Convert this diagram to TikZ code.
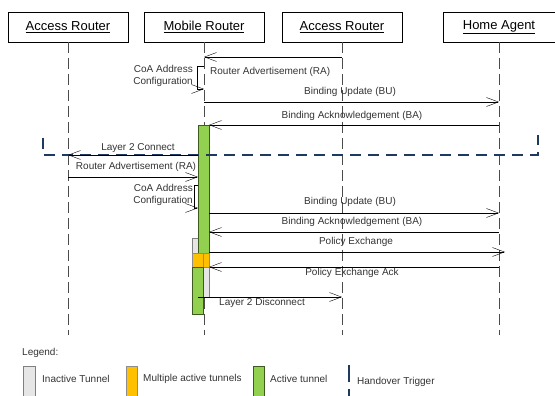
\documentclass[tikz,border=0pt]{standalone}
\usepackage{fontspec}
\setmainfont{Liberation Sans}
\usetikzlibrary{arrows.meta}
\definecolor{activegreen}{HTML}{92D050}
\definecolor{activeborder}{HTML}{3F5A1E}
\definecolor{multiorange}{HTML}{FFC000}
\definecolor{inactivegray}{HTML}{E6E6E6}
\definecolor{triggerblue}{HTML}{1F3A5F}
\definecolor{bodytext}{HTML}{333333}

\tikzset{
  head/.style={draw, minimum width=120pt, minimum height=30pt, inner sep=0pt, font=\fontsize{13}{15}\selectfont},
  lifeline/.style={draw=black!70, dash pattern=on 11pt off 5pt},
  msg/.style={-{Straight Barb[length=12pt,width=9pt]}, black},
  lbl/.style={font=\fontsize{10}{11.5}\selectfont, color=bodytext, inner sep=0pt},
  trigger/.style={draw=triggerblue, line width=2.2pt, dash pattern=on 11pt off 7pt},
  inactive/.style={fill=inactivegray, draw=black!50},
  multi/.style={fill=multiorange, draw=black!45},
  active/.style={fill=activegreen, draw=activeborder},
}

\begin{document}
\begin{tikzpicture}[x=1pt,y=-1pt]
    \useasboundingbox (0,0) rectangle (555,396);

    % Objects
    \node[head] (ar1) at (68,27) {\underline{Access Router}};
    \node[head] (mr) at (204,27) {\underline{Mobile Router}};
    \node[head] (ar2) at (342,27) {\underline{Access Router}};
    \node[head, minimum width=112pt] (ha) at (499,27) {\underline{Home Agent}};

    % Lifelines
    \coordinate (end) at (0,335);
    \foreach \o in {ar1,mr,ar2,ha}
        \draw[lifeline] (\o.south) -- (\o |- end);

    % Tunnels
    \draw[inactive] (192,238) rectangle (203,253);
    \draw[inactive] (198,267) rectangle (209,297);
    \draw[active] (198,125) rectangle (209,253);
    \draw[multi] (192,253) rectangle (209,267);
    \draw[black!45] (203,253) -- (203,267);
    \draw[active] (192,267) rectangle (203,314);

    % Message rows
    \coordinate (ra1) at (0,57);
    \coordinate (coa1) at (0,66);
    \coordinate (bu1) at (0,102);
    \coordinate (ba1) at (0,125);
    \coordinate (l2c) at (0,155);
    \coordinate (ra2) at (0,177);
    \coordinate (coa2) at (0,185);
    \coordinate (bu2) at (0,213);
    \coordinate (ba2) at (0,232);
    \coordinate (pe) at (0,252);
    \coordinate (pea) at (0,267);
    \coordinate (l2d) at (0,297);

    % Before handover
    \draw[msg] (ar2 |- ra1) -- (mr |- ra1);
    \node[lbl, anchor=west] (lra1) at (210,72) {Router Advertisement (RA)};
    \draw[msg] (mr |- coa1) -- ++(-7,0) -- ++(0,23) -- ++(7,0);
    \node[lbl, align=right, anchor=east] (lcoa1) at (193,76) {CoA Address\\Configuration};
    \draw[msg] (mr |- bu1) -- (ha |- bu1);
    \node[lbl] (lbu1) at (350,92) {Binding Update (BU)};
    \draw[msg] (ha |- ba1) -- ([xshift=5pt]mr |- ba1);
    \node[lbl] (lba1) at (352,116) {Binding Acknowledgement (BA)};

    % Handover
    \draw[trigger] (43,138) -- (43,155) -- (538,155) -- (538,135);
    \draw[msg] ([xshift=-6pt]mr |- l2c) -- (ar1 |- l2c);
    \node[lbl] (ll2c) at (138,148) {Layer 2 Connect};
    \draw[msg] (ar1 |- ra2) -- ([xshift=-6pt]mr |- ra2);
    \node[lbl] (lra2) at (136,167) {Router Advertisement (RA)};
    \draw[msg] ([xshift=-6pt]mr |- coa2) -- ++(-4,0) -- ++(0,23) -- ++(4,0);
    \node[lbl, align=right, anchor=east] (lcoa2) at (193,195) {CoA Address\\Configuration};
    \draw[msg] ([xshift=5pt]mr |- bu2) -- (ha |- bu2);
    \node[lbl] (lbu2) at (350,202) {Binding Update (BU)};
    \draw[msg] (ha |- ba2) -- ([xshift=5pt]mr |- ba2);
    \node[lbl] (lba2) at (352,222) {Binding Acknowledgement (BA)};
    \draw[msg] ([xshift=5pt]mr |- pe) -- ([xshift=6pt]ha |- pe);
    \node[lbl] (lpe) at (356,242) {Policy Exchange};
    \draw[msg] (ha |- pea) -- ([xshift=5pt]mr |- pea);
    \node[lbl] (lpea) at (352,273) {Policy Exchange Ack};
    \draw[msg] ([xshift=-6pt]mr |- l2d) -- (ar2 |- l2d);
    \node[lbl, anchor=west] (ll2d) at (219,303) {Layer 2 Disconnect};

    % Legend
    \node[lbl, anchor=west] (legend) at (22,353) {Legend:};
    \draw[inactive] (23,366) rectangle (35,402);
    \node[lbl, anchor=west] (linactive) at (42,379) {Inactive Tunnel};
    \draw[multi] (126,366) rectangle (137,402);
    \node[lbl, anchor=west] (lmulti) at (143,379) {Multiple active tunnels};
    \draw[active] (253,366) rectangle (264,402);
    \node[lbl, anchor=west] (lactive) at (270,379) {Active tunnel};
    \draw[trigger, dash pattern=on 17pt off 7pt] (349,365) -- (349,402);
    \node[lbl, anchor=west] (ltrigger) at (357,382) {Handover Trigger};
\end{tikzpicture}
\end{document}
